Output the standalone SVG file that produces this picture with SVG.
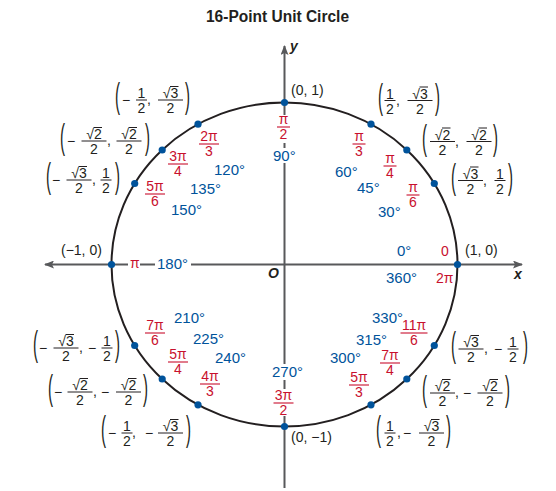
<svg xmlns="http://www.w3.org/2000/svg" width="556" height="491" viewBox="0 0 556 491">
<defs>
<style>
text{font-family:"Liberation Sans",Arial,sans-serif}
.t{font-size:16px;font-weight:bold;fill:#231f20;text-anchor:middle}
.ax{font-size:14px;font-weight:bold;font-style:italic;fill:#231f20}
.c{font-size:14px;fill:#231f20}
.n{font-size:14px;fill:#231f20;text-anchor:middle}
.p{font-size:15px;fill:#231f20}
.b{stroke:#231f20;stroke-width:1}
.v{stroke:#231f20;stroke-width:1}
.r{font-size:14px;fill:#c8102e;text-anchor:middle}
.rs{font-size:14px;fill:#c8102e}
.rb{stroke:#c8102e;stroke-width:1.1}
.d{font-size:15px;fill:#00539b}
.dot{fill:#00539b}
.bg{fill:#fff}
.axis{stroke:#58595b;stroke-width:2;fill:none}
</style>
<marker id="ah" viewBox="0 0 10 8" refX="9" refY="4" markerWidth="10" markerHeight="8" markerUnits="userSpaceOnUse" orient="auto">
<path d="M0,0 L10,4 L0,8 L2,4 Z" fill="#58595b"/>
</marker>
</defs>
<rect width="556" height="491" fill="#fff"/>
<text class="t" x="277.5" y="22" textLength="143" lengthAdjust="spacingAndGlyphs">16-Point Unit Circle</text>

<g id="connectors">
<line class="axis" x1="284.5" y1="488" x2="284.5" y2="46" marker-end="url(#ah)"/>
<line class="axis" x1="284.5" y1="264.5" x2="522" y2="264.5" marker-end="url(#ah)"/>
<line class="axis" x1="284.5" y1="264.5" x2="45" y2="264.5" marker-end="url(#ah)"/>
</g>
<g id="axis-labels">
<text class="ax" x="290" y="51">y</text>
<text class="ax" x="514" y="279">x</text>
<text class="ax" x="268" y="278">O</text>
</g>
<g id="circle">
<ellipse cx="284.5" cy="264.5" rx="173" ry="162" fill="none" stroke="#231f20" stroke-width="2"/>
</g>

<g id="pt-0">
<circle class="dot" cx="457.5" cy="264.5" r="3.6"/>
<text class="c" x="465" y="255">(1, 0)</text>
<text class="rs" x="441" y="256">0</text>
<text class="rs" x="436" y="283">2π</text>
<text class="d" x="397" y="256">0°</text>
<text class="d" x="386" y="283">360°</text>
</g>

<g id="pt-30">
<circle class="dot" cx="434.3" cy="183.5" r="3.6"/>
<text class="p" transform="translate(451,188.5) scale(1,2.4)">(</text>
<text class="n" x="470.5" y="178.5">√3</text><line class="v" x1="470" y1="167" x2="478.5" y2="167"/>
<line class="b" x1="458" y1="180.5" x2="483" y2="180.5"/>
<text class="n" x="470.5" y="193.5">2</text>
<text class="c" x="483" y="184.5">,</text>
<text class="n" x="500" y="178.5">1</text>
<line class="b" x1="494.5" y1="180.5" x2="505.5" y2="180.5"/>
<text class="n" x="500" y="193.5">2</text>
<text class="p" transform="translate(508,188.5) scale(1,2.4)">)</text>
<text class="r" x="413" y="192">π</text><line class="rb" x1="406.5" y1="195" x2="419.5" y2="195"/><text class="r" x="413" y="207">6</text>
<text class="d" x="378" y="217">30°</text>
</g>

<g id="pt-45">
<circle class="dot" cx="406.8" cy="150" r="3.6"/>
<text class="p" transform="translate(422,149.5) scale(1,2.4)">(</text>
<text class="n" x="442.5" y="139.5">√2</text><line class="v" x1="442" y1="128" x2="450.5" y2="128"/>
<line class="b" x1="430" y1="141.5" x2="455" y2="141.5"/>
<text class="n" x="442.5" y="154.5">2</text>
<text class="c" x="455" y="145.5">,</text>
<text class="n" x="479" y="139.5">√2</text><line class="v" x1="478.5" y1="128" x2="487" y2="128"/>
<line class="b" x1="466.5" y1="141.5" x2="491.5" y2="141.5"/>
<text class="n" x="479" y="154.5">2</text>
<text class="p" transform="translate(493,149.5) scale(1,2.4)">)</text>
<text class="r" x="390" y="163">π</text><line class="rb" x1="383.5" y1="166" x2="396.5" y2="166"/><text class="r" x="390" y="178">4</text>
<text class="d" x="357" y="193">45°</text>
</g>

<g id="pt-60">
<circle class="dot" cx="371" cy="124.2" r="3.6"/>
<text class="p" transform="translate(378,108.5) scale(1,2.4)">(</text>
<text class="n" x="390" y="98.5">1</text>
<line class="b" x1="384.5" y1="100.5" x2="395.5" y2="100.5"/>
<text class="n" x="390" y="113.5">2</text>
<text class="c" x="396" y="104.5">,</text>
<text class="n" x="420" y="98.5">√3</text><line class="v" x1="419.5" y1="87" x2="428" y2="87"/>
<line class="b" x1="407.5" y1="100.5" x2="432.5" y2="100.5"/>
<text class="n" x="420" y="113.5">2</text>
<text class="p" transform="translate(435,108.5) scale(1,2.4)">)</text>
<text class="r" x="359" y="141">π</text><line class="rb" x1="352.5" y1="144" x2="365.5" y2="144"/><text class="r" x="359" y="156">3</text>
<text class="d" x="335" y="177">60°</text>
</g>

<g id="pt-90">
<rect class="bg" x="275" y="115" width="18" height="28"/>
<rect class="bg" x="271" y="148" width="30" height="15"/>
<circle class="dot" cx="284.5" cy="102.5" r="3.6"/>
<text class="c" x="291" y="95">(0, 1)</text>
<text class="r" x="283.5" y="124">π</text><line class="rb" x1="277" y1="127" x2="290" y2="127"/><text class="r" x="283.5" y="139">2</text>
<text class="d" x="273" y="161">90°</text>
</g>

<g id="pt-120">
<circle class="dot" cx="198" cy="124.2" r="3.6"/>
<text class="p" transform="translate(115,108) scale(1,2.4)">(</text>
<text class="c" x="122" y="104.5">−</text>
<text class="n" x="141.5" y="98">1</text>
<line class="b" x1="136" y1="100" x2="147" y2="100"/>
<text class="n" x="141.5" y="113">2</text>
<text class="c" x="147" y="104">,</text>
<text class="n" x="170.5" y="98">√3</text><line class="v" x1="170" y1="86.5" x2="178.5" y2="86.5"/>
<line class="b" x1="158" y1="100" x2="183" y2="100"/>
<text class="n" x="170.5" y="113">2</text>
<text class="p" transform="translate(185,108) scale(1,2.4)">)</text>
<text class="r" x="209" y="141">2π</text><line class="rb" x1="199" y1="144" x2="219" y2="144"/><text class="r" x="209" y="156">3</text>
<text class="d" x="214" y="175">120°</text>
</g>

<g id="pt-135">
<circle class="dot" cx="162.2" cy="150" r="3.6"/>
<text class="p" transform="translate(60,149) scale(1,2.4)">(</text>
<text class="c" x="67" y="145.5">−</text>
<text class="n" x="94" y="139">√2</text><line class="v" x1="93.5" y1="127.5" x2="102" y2="127.5"/>
<line class="b" x1="81.5" y1="141" x2="106.5" y2="141"/>
<text class="n" x="94" y="154">2</text>
<text class="c" x="107" y="145">,</text>
<text class="n" x="129" y="139">√2</text><line class="v" x1="128.5" y1="127.5" x2="137" y2="127.5"/>
<line class="b" x1="116.5" y1="141" x2="141.5" y2="141"/>
<text class="n" x="129" y="154">2</text>
<text class="p" transform="translate(145,149) scale(1,2.4)">)</text>
<text class="r" x="178" y="161">3π</text><line class="rb" x1="168" y1="164" x2="188" y2="164"/><text class="r" x="178" y="176">4</text>
<text class="d" x="190" y="194">135°</text>
</g>

<g id="pt-150">
<circle class="dot" cx="134.7" cy="183.5" r="3.6"/>
<text class="p" transform="translate(46,188) scale(1,2.4)">(</text>
<text class="c" x="52" y="184.5">−</text>
<text class="n" x="79" y="178">√3</text><line class="v" x1="78.5" y1="166.5" x2="87" y2="166.5"/>
<line class="b" x1="66.5" y1="180" x2="91.5" y2="180"/>
<text class="n" x="79" y="193">2</text>
<text class="c" x="92" y="184">,</text>
<text class="n" x="106" y="178">1</text>
<line class="b" x1="100.5" y1="180" x2="111.5" y2="180"/>
<text class="n" x="106" y="193">2</text>
<text class="p" transform="translate(115,188) scale(1,2.4)">)</text>
<text class="r" x="155" y="191">5π</text><line class="rb" x1="145" y1="194" x2="165" y2="194"/><text class="r" x="155" y="206">6</text>
<text class="d" x="171" y="215">150°</text>
</g>

<g id="pt-180">
<rect class="bg" x="128" y="258" width="12" height="13"/>
<rect class="bg" x="155" y="256" width="36" height="15"/>
<circle class="dot" cx="111.5" cy="264.5" r="3.6"/>
<text class="c" x="61" y="255">(−1, 0)</text>
<text class="rs" x="130" y="268">π</text>
<text class="d" x="157" y="269">180°</text>
</g>

<g id="pt-210">
<circle class="dot" cx="134.7" cy="345.5" r="3.6"/>
<text class="p" transform="translate(33,356) scale(1,2.4)">(</text>
<text class="c" x="39" y="352.5">−</text>
<text class="n" x="66" y="346">√3</text><line class="v" x1="65.5" y1="334.5" x2="74" y2="334.5"/>
<line class="b" x1="53.5" y1="348" x2="78.5" y2="348"/>
<text class="n" x="66" y="361">2</text>
<text class="c" x="79" y="352">,</text>
<text class="c" x="88" y="352.5">−</text>
<text class="n" x="107" y="346">1</text>
<line class="b" x1="101.5" y1="348" x2="112.5" y2="348"/>
<text class="n" x="107" y="361">2</text>
<text class="p" transform="translate(115,356) scale(1,2.4)">)</text>
<text class="r" x="155" y="330">7π</text><line class="rb" x1="145" y1="333" x2="165" y2="333"/><text class="r" x="155" y="345">6</text>
<text class="d" x="174" y="323">210°</text>
</g>

<g id="pt-225">
<circle class="dot" cx="162.2" cy="379" r="3.6"/>
<text class="p" transform="translate(48,400) scale(1,2.4)">(</text>
<text class="c" x="54" y="396.5">−</text>
<text class="n" x="80" y="390">√2</text><line class="v" x1="79.5" y1="378.5" x2="88" y2="378.5"/>
<line class="b" x1="67.5" y1="392" x2="92.5" y2="392"/>
<text class="n" x="80" y="405">2</text>
<text class="c" x="93" y="396">,</text>
<text class="c" x="101" y="396.5">−</text>
<text class="n" x="128.5" y="390">√2</text><line class="v" x1="128" y1="378.5" x2="136.5" y2="378.5"/>
<line class="b" x1="116" y1="392" x2="141" y2="392"/>
<text class="n" x="128.5" y="405">2</text>
<text class="p" transform="translate(143,400) scale(1,2.4)">)</text>
<text class="r" x="178" y="359">5π</text><line class="rb" x1="168" y1="362" x2="188" y2="362"/><text class="r" x="178" y="374">4</text>
<text class="d" x="193" y="344">225°</text>
</g>

<g id="pt-240">
<circle class="dot" cx="198" cy="404.8" r="3.6"/>
<text class="p" transform="translate(101,441) scale(1,2.4)">(</text>
<text class="c" x="108" y="437.5">−</text>
<text class="n" x="127" y="431">1</text>
<line class="b" x1="121.5" y1="433" x2="132.5" y2="433"/>
<text class="n" x="127" y="446">2</text>
<text class="c" x="132" y="437">,</text>
<text class="c" x="145" y="437.5">−</text>
<text class="n" x="170.5" y="431">√3</text><line class="v" x1="170" y1="419.5" x2="178.5" y2="419.5"/>
<line class="b" x1="158" y1="433" x2="183" y2="433"/>
<text class="n" x="170.5" y="446">2</text>
<text class="p" transform="translate(186,441) scale(1,2.4)">)</text>
<text class="r" x="210" y="381">4π</text><line class="rb" x1="200" y1="384" x2="220" y2="384"/><text class="r" x="210" y="396">3</text>
<text class="d" x="215" y="363">240°</text>
</g>

<g id="pt-270">
<rect class="bg" x="271" y="364" width="32" height="16"/>
<rect class="bg" x="273" y="389" width="21" height="27"/>
<circle class="dot" cx="284.5" cy="426.5" r="3.6"/>
<text class="c" x="291" y="442">(0, −1)</text>
<text class="r" x="283.5" y="400">3π</text><line class="rb" x1="273.5" y1="403" x2="293.5" y2="403"/><text class="r" x="283.5" y="415">2</text>
<text class="d" x="272" y="377">270°</text>
</g>

<g id="pt-300">
<circle class="dot" cx="371" cy="404.8" r="3.6"/>
<text class="p" transform="translate(376,441) scale(1,2.4)">(</text>
<text class="n" x="390" y="431">1</text>
<line class="b" x1="384.5" y1="433" x2="395.5" y2="433"/>
<text class="n" x="390" y="446">2</text>
<text class="c" x="397" y="437">,</text>
<text class="c" x="403" y="437.5">−</text>
<text class="n" x="431.5" y="431">√3</text><line class="v" x1="431" y1="419.5" x2="439.5" y2="419.5"/>
<line class="b" x1="419" y1="433" x2="444" y2="433"/>
<text class="n" x="431.5" y="446">2</text>
<text class="p" transform="translate(446,441) scale(1,2.4)">)</text>
<text class="r" x="359" y="382">5π</text><line class="rb" x1="349" y1="385" x2="369" y2="385"/><text class="r" x="359" y="397">3</text>
<text class="d" x="330" y="363">300°</text>
</g>

<g id="pt-315">
<circle class="dot" cx="406.8" cy="379" r="3.6"/>
<text class="p" transform="translate(422,401) scale(1,2.4)">(</text>
<text class="n" x="442.5" y="391">√2</text><line class="v" x1="442" y1="379.5" x2="450.5" y2="379.5"/>
<line class="b" x1="430" y1="393" x2="455" y2="393"/>
<text class="n" x="442.5" y="406">2</text>
<text class="c" x="455" y="397">,</text>
<text class="c" x="463" y="397.5">−</text>
<text class="n" x="490" y="391">√2</text><line class="v" x1="489.5" y1="379.5" x2="498" y2="379.5"/>
<line class="b" x1="477.5" y1="393" x2="502.5" y2="393"/>
<text class="n" x="490" y="406">2</text>
<text class="p" transform="translate(505,401) scale(1,2.4)">)</text>
<text class="r" x="390" y="360">7π</text><line class="rb" x1="380" y1="363" x2="400" y2="363"/><text class="r" x="390" y="375">4</text>
<text class="d" x="356" y="345">315°</text>
</g>

<g id="pt-330">
<circle class="dot" cx="434.3" cy="345.5" r="3.6"/>
<text class="p" transform="translate(451,357) scale(1,2.4)">(</text>
<text class="n" x="471" y="347">√3</text><line class="v" x1="470.5" y1="335.5" x2="479" y2="335.5"/>
<line class="b" x1="458.5" y1="349" x2="483.5" y2="349"/>
<text class="n" x="471" y="362">2</text>
<text class="c" x="484" y="353">,</text>
<text class="c" x="494" y="353.5">−</text>
<text class="n" x="513" y="347">1</text>
<line class="b" x1="507.5" y1="349" x2="518.5" y2="349"/>
<text class="n" x="513" y="362">2</text>
<text class="p" transform="translate(523,357) scale(1,2.4)">)</text>
<text class="r" x="414" y="330">11π</text><line class="rb" x1="400.5" y1="333" x2="427.5" y2="333"/><text class="r" x="414" y="345">6</text>
<text class="d" x="372" y="323">330°</text>
</g>
</svg>
